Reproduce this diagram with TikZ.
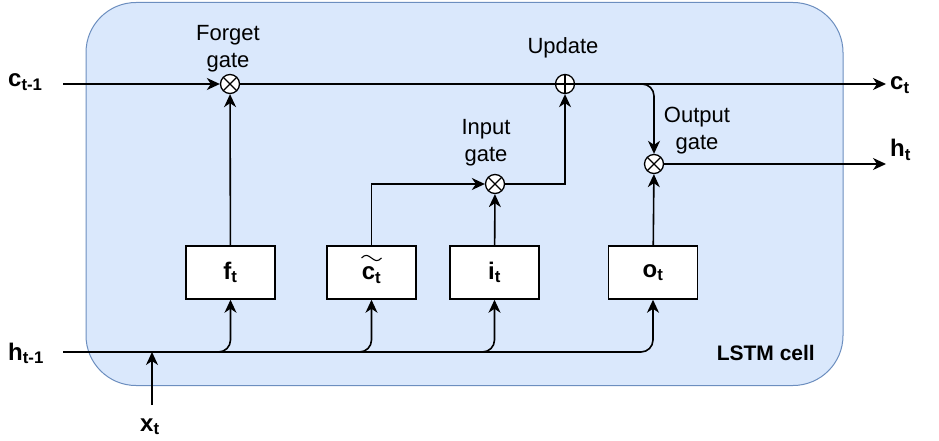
\documentclass[tikz,border=0pt]{standalone}
\usepackage{fontspec}
\setmainfont{Liberation Sans}
\usetikzlibrary{arrows.meta}
\definecolor{cellfill}{HTML}{DAE8FC}
\definecolor{cellborder}{HTML}{6C8EBF}
\tikzset{
  flow/.style={line width=1.6pt},
  arrow/.style={flow, -{Stealth[length=13pt,width=12pt,inset=4pt]}},
  gatebox/.style={draw, line width=1.5pt, fill=white, minimum width=89pt, minimum height=53pt,
    font=\fontsize{24}{28}\selectfont\bfseries},
  mulgate/.style={circle, draw, fill=white, line width=1.3pt, minimum size=19pt, inner sep=0pt,
    path picture={\draw[line width=1.3pt] (path picture bounding box.north west) -- (path picture bounding box.south east)
      (path picture bounding box.north east) -- (path picture bounding box.south west);}},
  addgate/.style={circle, draw, fill=white, line width=1.3pt, minimum size=19pt, inner sep=0pt,
    path picture={\draw[line width=1.3pt] (path picture bounding box.north) -- (path picture bounding box.south)
      (path picture bounding box.east) -- (path picture bounding box.west);}},
  gatelabel/.style={align=center, anchor=south, inner sep=0pt, font=\fontsize{22}{27}\selectfont},
  varlabel/.style={anchor=base west, inner sep=0pt, font=\fontsize{24}{28}\selectfont\bfseries},
}
\begin{document}
\begin{tikzpicture}[x=1pt,y=-1pt]
  \useasboundingbox (0,0) rectangle (939,441);
  % the cell
  \node[draw=cellborder, fill=cellfill, line width=1pt, rounded corners=50pt,
    minimum width=757pt, minimum height=383pt] (cell) at (464.5,194) {};
  \node[anchor=base east, inner sep=0pt, font=\fontsize{21}{25}\selectfont\bfseries] (celllabel) at (815,360) {LSTM cell};

  % gates
  \node[mulgate] (fgate) at (230,84) {};
  \node[addgate] (ugate) at (565,84) {};
  \node[mulgate] (igate) at (495,184) {};
  \node[mulgate] (ogate) at (654,164) {};
  \node[gatelabel] (flabel) at (228,72) {Forget\\gate};
  \node[gatelabel, anchor=base] (ulabel) at (563,54) {Update};
  \node[gatelabel] (ilabel) at (486,166.5) {Input\\gate};
  \node[gatelabel] (olabel) at (697,154.5) {Output\\gate};

  % layers
  \node[gatebox] (fbox) at (230.5,272.5) {f\textsubscript{t}};
  \node[gatebox, text depth=0pt, yshift=0pt] (cbox) at (371.5,272.5) {\raisebox{-1.5pt}{c\textsubscript{t}}};
  \draw[line width=1.1pt] ([shift={(-10,-14.5)}]cbox.center) .. controls +(4,-4) and +(-4,-3) .. ++(10,0)
    .. controls +(4,3) and +(-4,4) .. ++(10,0);
  \node[gatebox] (ibox) at (494.5,272.5) {i\textsubscript{t}};
  \node[gatebox] (obox) at (653,272.5) {o\textsubscript{t}};

  % inputs and outputs
  \node[varlabel] (cprev) at (8,87) {c\textsubscript{t-1}};
  \node[varlabel] (hprev) at (8,360) {h\textsubscript{t-1}};
  \node[varlabel] (xcur) at (140,431) {x\textsubscript{t}};
  \node[varlabel] (cnext) at (890,90) {c\textsubscript{t}};
  \node[varlabel] (hnext) at (890,157) {h\textsubscript{t}};
  \coordinate (cin) at (63,84);
  \coordinate (hin) at (63,352);
  \coordinate (xin) at (152,405);
  \coordinate (cout) at (886,84);
  \coordinate (hout) at (886,164);

  % cell state
  \draw[arrow] (cin) -- (fgate);
  \draw[flow] (fgate) -- (ugate);
  \draw[arrow] (ugate) -- (cout);
  \draw[arrow, rounded corners=12pt] (ugate) -| (ogate);
  \draw[arrow] (ogate) -- (hout);

  % hidden state into the layers
  \draw[arrow] (xin) -- (xin |- hin);
  \draw[arrow, rounded corners=12pt] (hin) -| (fbox);
  \draw[arrow, rounded corners=12pt] (hin) -| (cbox);
  \draw[arrow, rounded corners=12pt] (hin) -| (ibox);
  \draw[arrow, rounded corners=12pt] (hin) -| (obox);

  % layers into the gates
  \draw[arrow] (fbox) -- (fgate);
  \draw[arrow] (cbox) |- (igate);
  \draw[arrow] (ibox) -- (igate);
  \draw[arrow] (igate) -| (ugate);
  \draw[arrow] (obox) -- (ogate);
\end{tikzpicture}
\end{document}
